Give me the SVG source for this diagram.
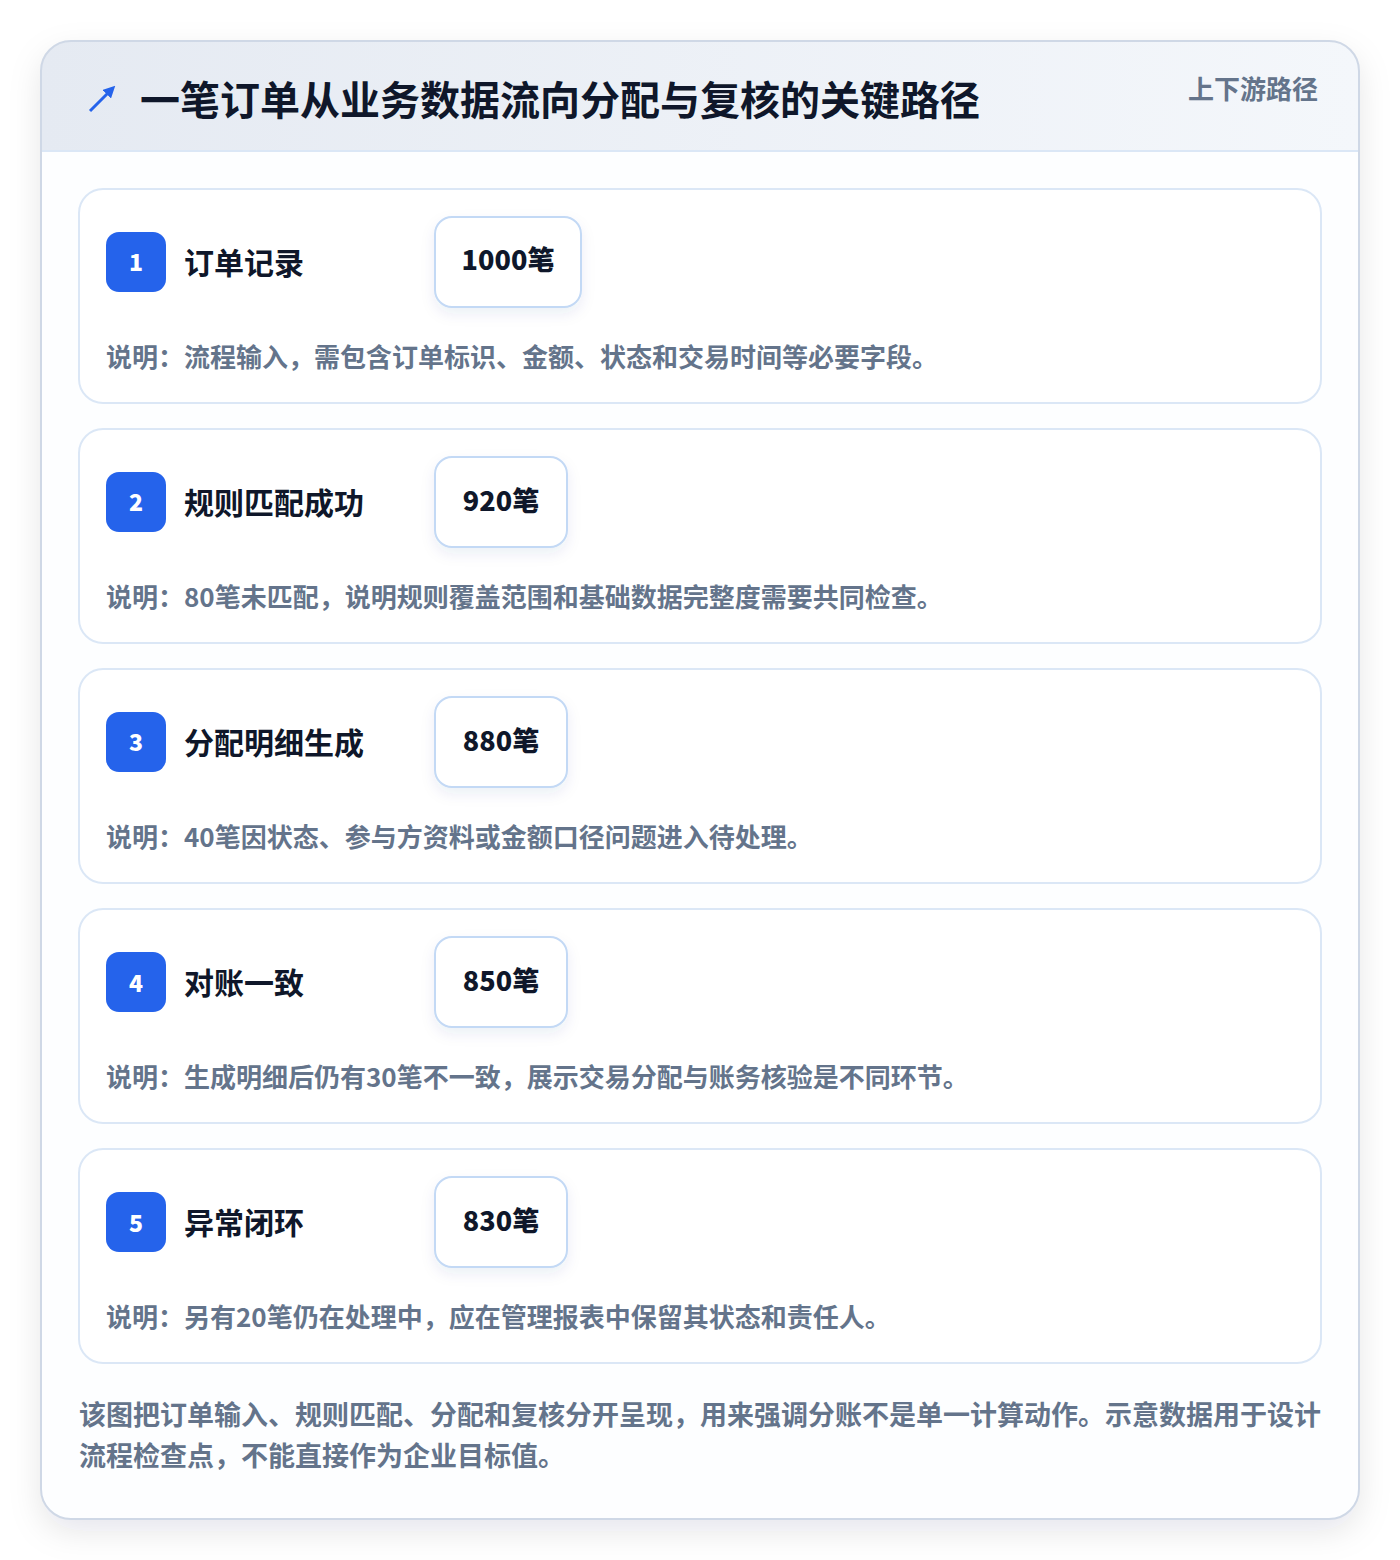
<svg xmlns="http://www.w3.org/2000/svg" width="1400" height="1560" viewBox="0 0 1400 1560">
<defs>
<linearGradient id="hdr" x1="0" y1="0" x2="1" y2="0">
<stop offset="0" stop-color="#e5eaf2"/>
<stop offset="1" stop-color="#f4f7fb"/>
</linearGradient>
<filter id="sh" x="-10%" y="-10%" width="120%" height="120%">
<feDropShadow dx="0" dy="12" stdDeviation="16" flood-color="#0f172a" flood-opacity="0.10"/>
</filter>
<filter id="psh" x="-30%" y="-30%" width="160%" height="180%">
<feDropShadow dx="0" dy="6" stdDeviation="7" flood-color="#1e3a8a" flood-opacity="0.08"/>
</filter>
<clipPath id="outerClip"><rect x="41" y="41" width="1318" height="1478" rx="30"/></clipPath>
<marker id="ah" viewBox="0 0 10 10" refX="5" refY="5" markerWidth="4" markerHeight="4" orient="auto"><path d="M0,0 L10,5 L0,10 z" fill="#2563eb"/></marker>
</defs>
<style>
text{font-family:"Noto Sans CJK SC","Noto Sans",sans-serif;font-weight:700}
.card{fill:#ffffff;stroke:#dbe7f6;stroke-width:2}
.badge{fill:#2563eb}
.bnum{fill:#ffffff;font-size:23px;text-anchor:middle;font-weight:900}
.title{fill:#0f172a;font-size:30px}
.pill{fill:#ffffff;stroke:#c3d9f5;stroke-width:2}
.val{fill:#0f172a;font-size:27px;text-anchor:middle;font-weight:900}
.desc{fill:#64748b;font-size:26px}
.foot{fill:#64748b;font-size:27px}
</style>
<rect width="1400" height="1560" fill="#ffffff"/>
<g id="frame">
<rect x="41" y="41" width="1318" height="1478" rx="30" fill="#fdfeff" filter="url(#sh)"/>
<rect x="41" y="41" width="1318" height="110" fill="url(#hdr)" clip-path="url(#outerClip)"/>
<line x1="41" y1="151" x2="1359" y2="151" stroke="#dbe7f6" stroke-width="2"/>
<rect x="41" y="41" width="1318" height="1478" rx="30" fill="none" stroke="#cfd8e6" stroke-width="2"/>
</g>
<g id="header">
<line x1="90" y1="111" x2="111" y2="90" stroke="#2563eb" stroke-width="3" marker-end="url(#ah)"/>
<text x="140" y="115" fill="#0f172a" font-size="40">一笔订单从业务数据流向分配与复核的关键路径</text>
<text x="1318" y="99" fill="#64748b" font-size="26" text-anchor="end">上下游路径</text>
</g>
<g id="connectors"></g>
<g id="step1">
<rect class="card" x="79" y="189" width="1242" height="214" rx="24"/>
<rect class="badge" x="106" y="232" width="60" height="60" rx="13"/>
<text class="bnum" x="136" y="271">1</text>
<text class="title" x="184" y="274">订单记录</text>
<rect class="pill" x="435" y="217" width="146" height="90" rx="17" filter="url(#psh)"/>
<text class="val" x="508" y="270">1000笔</text>
<text class="desc" x="106" y="367">说明：流程输入，需包含订单标识、金额、状态和交易时间等必要字段。</text>
</g>
<g id="step2">
<rect class="card" x="79" y="429" width="1242" height="214" rx="24"/>
<rect class="badge" x="106" y="472" width="60" height="60" rx="13"/>
<text class="bnum" x="136" y="511">2</text>
<text class="title" x="184" y="514">规则匹配成功</text>
<rect class="pill" x="435" y="457" width="132" height="90" rx="17" filter="url(#psh)"/>
<text class="val" x="501" y="511">920笔</text>
<text class="desc" x="106" y="607">说明：80笔未匹配，说明规则覆盖范围和基础数据完整度需要共同检查。</text>
</g>
<g id="step3">
<rect class="card" x="79" y="669" width="1242" height="214" rx="24"/>
<rect class="badge" x="106" y="712" width="60" height="60" rx="13"/>
<text class="bnum" x="136" y="751">3</text>
<text class="title" x="184" y="754">分配明细生成</text>
<rect class="pill" x="435" y="697" width="132" height="90" rx="17" filter="url(#psh)"/>
<text class="val" x="501" y="751">880笔</text>
<text class="desc" x="106" y="847">说明：40笔因状态、参与方资料或金额口径问题进入待处理。</text>
</g>
<g id="step4">
<rect class="card" x="79" y="909" width="1242" height="214" rx="24"/>
<rect class="badge" x="106" y="952" width="60" height="60" rx="13"/>
<text class="bnum" x="136" y="992">4</text>
<text class="title" x="184" y="994">对账一致</text>
<rect class="pill" x="435" y="937" width="132" height="90" rx="17" filter="url(#psh)"/>
<text class="val" x="501" y="991">850笔</text>
<text class="desc" x="106" y="1087">说明：生成明细后仍有30笔不一致，展示交易分配与账务核验是不同环节。</text>
</g>
<g id="step5">
<rect class="card" x="79" y="1149" width="1242" height="214" rx="24"/>
<rect class="badge" x="106" y="1192" width="60" height="60" rx="13"/>
<text class="bnum" x="136" y="1232">5</text>
<text class="title" x="184" y="1234">异常闭环</text>
<rect class="pill" x="435" y="1177" width="132" height="90" rx="17" filter="url(#psh)"/>
<text class="val" x="501" y="1231">830笔</text>
<text class="desc" x="106" y="1327">说明：另有20笔仍在处理中，应在管理报表中保留其状态和责任人。</text>
</g>
<g id="footer">
<text class="foot" x="79" y="1425">该图把订单输入、规则匹配、分配和复核分开呈现，用来强调分账不是单一计算动作。示意数据用于设计</text>
<text class="foot" x="79" y="1466">流程检查点，不能直接作为企业目标值。</text>
</g>
</svg>
